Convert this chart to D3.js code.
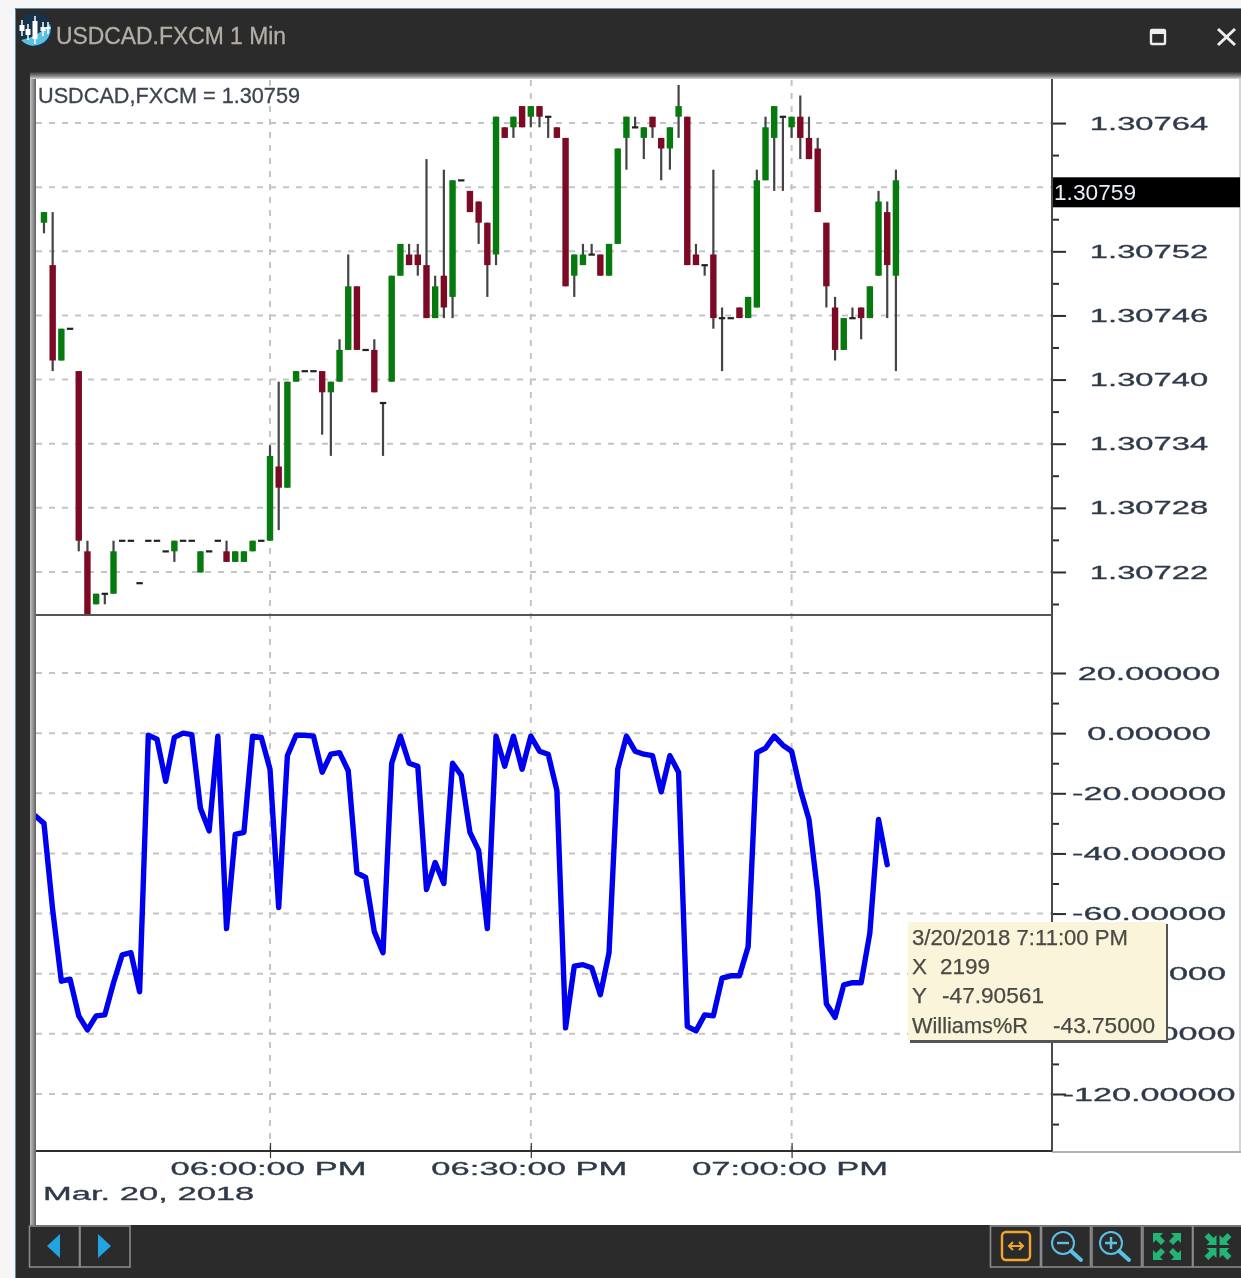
<!DOCTYPE html>
<html>
<head>
<meta charset="utf-8">
<script src="https://cdn.jsdelivr.net/npm/d3@7"></script>
<style>
html, body { margin: 0; padding: 0; background: #f6f6f6; overflow: hidden; }
svg { display: block; filter: blur(0.7px); }
text { font-family: "Liberation Sans", Arial, sans-serif; }
</style>
</head>
<body>
<svg id="chart"></svg>
<script>
const width = 1241;
const height = 1278;

const opens = [1.30755,1.30751,1.30742,1.30745,1.30741,1.30724,1.30719,1.30720,1.30720,1.30725,1.30725,1.30721,1.30725,1.30725,1.30724,1.30724,1.30725,1.30725,1.30722,1.30724,1.30725,1.30724,1.30723,1.30723,1.30724,1.30725,
  1.30725,1.30732,1.30730,1.30740,1.30741,1.30741,1.30741,1.30739,1.30740,1.30743,1.30749,1.30743,1.30743,1.30738,1.30740,1.30750,1.30752,1.30752,1.30751,1.30746,1.30750,1.30748,1.30759,1.30758,
  1.30757,1.30755,1.30752,1.30764,1.30764,1.30766,1.30765,1.30766,1.30765,1.30764,1.30763,1.30750,1.30751,1.30752,1.30752,1.30750,1.30753,1.30763,1.30764,1.30763,1.30765,1.30763,1.30762,1.30765,
  1.30765,1.30752,1.30751,1.30752,1.30746,1.30746,1.30747,1.30746,1.30747,1.30759,1.30763,1.30765,1.30764,1.30765,1.30763,1.30762,1.30755,1.30747,1.30743,1.30746,1.30747,1.30746,1.30750,1.30756,1.30750];
const highs = [1.30756,1.30756,1.30745,1.30745,1.30741,1.30725,1.30720,1.30720,1.30725,1.30725,1.30725,1.30721,1.30725,1.30725,1.30724,1.30725,1.30725,1.30725,1.30724,1.30724,1.30725,1.30725,1.30724,1.30724,1.30725,1.30725,
  1.30734,1.30740,1.30740,1.30741,1.30741,1.30741,1.30741,1.30740,1.30744,1.30752,1.30749,1.30743,1.30744,1.30738,1.30750,1.30753,1.30753,1.30753,1.30761,1.30750,1.30760,1.30759,1.30759,1.30758,
  1.30757,1.30755,1.30765,1.30764,1.30765,1.30766,1.30766,1.30766,1.30765,1.30764,1.30763,1.30752,1.30753,1.30753,1.30752,1.30753,1.30762,1.30765,1.30765,1.30764,1.30765,1.30763,1.30764,1.30768,
  1.30765,1.30753,1.30751,1.30760,1.30747,1.30746,1.30747,1.30748,1.30760,1.30765,1.30766,1.30765,1.30765,1.30767,1.30765,1.30763,1.30755,1.30748,1.30746,1.30747,1.30747,1.30749,1.30758,1.30757,1.30760];
const lows = [1.30754,1.30741,1.30742,1.30745,1.30724,1.30718,1.30719,1.30719,1.30720,1.30725,1.30725,1.30721,1.30725,1.30725,1.30724,1.30723,1.30725,1.30725,1.30722,1.30724,1.30725,1.30723,1.30723,1.30723,1.30724,1.30725,
  1.30725,1.30726,1.30730,1.30740,1.30741,1.30741,1.30735,1.30733,1.30740,1.30743,1.30743,1.30743,1.30739,1.30733,1.30740,1.30750,1.30751,1.30750,1.30746,1.30746,1.30746,1.30746,1.30759,1.30756,
  1.30753,1.30748,1.30751,1.30763,1.30763,1.30764,1.30764,1.30764,1.30763,1.30763,1.30749,1.30748,1.30751,1.30752,1.30750,1.30750,1.30753,1.30760,1.30764,1.30761,1.30763,1.30759,1.30760,1.30763,
  1.30751,1.30751,1.30750,1.30745,1.30741,1.30746,1.30746,1.30746,1.30747,1.30759,1.30758,1.30758,1.30763,1.30761,1.30761,1.30756,1.30747,1.30742,1.30743,1.30746,1.30744,1.30746,1.30750,1.30746,1.30741];
const closes = [1.30756,1.30742,1.30745,1.30745,1.30725,1.30718,1.30720,1.30720,1.30724,1.30725,1.30725,1.30721,1.30725,1.30725,1.30724,1.30725,1.30725,1.30725,1.30724,1.30724,1.30725,1.30723,1.30724,1.30724,1.30725,1.30725,
  1.30733,1.30730,1.30740,1.30741,1.30741,1.30741,1.30739,1.30740,1.30743,1.30749,1.30743,1.30743,1.30739,1.30738,1.30750,1.30753,1.30751,1.30751,1.30746,1.30749,1.30747,1.30759,1.30759,1.30756,
  1.30755,1.30751,1.30765,1.30763,1.30765,1.30764,1.30766,1.30765,1.30765,1.30763,1.30749,1.30752,1.30752,1.30752,1.30750,1.30753,1.30762,1.30765,1.30764,1.30764,1.30764,1.30762,1.30764,1.30766,
  1.30751,1.30751,1.30751,1.30746,1.30746,1.30746,1.30746,1.30748,1.30759,1.30764,1.30766,1.30765,1.30765,1.30763,1.30761,1.30756,1.30749,1.30743,1.30746,1.30746,1.30746,1.30749,1.30757,1.30751,1.30759];

// Williams %R, one value a minute from 5:33 PM to 7:11 PM
const williams = [-27.5,-30,-58.7,-82.5,-81.8,-94,-98.7,-94,-93.7,-83,-73.7,-73,-86,-0.7,-2,-16,-1.4,0,-0.5,-25,-32.5,-1,-65,-33.7,-33,-1,-1.4,
  -12,-58,-7.5,-0.7,-0.7,-1,-13,-7,-6.5,-12.5,-46.5,-48,-66,-73,-10,-1,-10,-11,-52,-43,-50,-10,-14,-33,-39,-65,-1,-11,-1,-12,-1,-6,-7,-19,-98,-77.5,-77,-78,-87,-73,-12,-1,-6,-7,-7.5,-19.5,-7.5,-13,
  -97.5,-99,-93.7,-94,-81.5,-80.7,-80.7,-71,-6.5,-5,-1,-4,-6,-18.7,-28.7,-53,-90,-94.5,-83.7,-83,-83,-66.5,-28.7,-43.75];

const priceTicks = [1.307644,1.3075835,1.307523,1.3074625,1.307402,1.3073415,1.307281,1.3072205];
const priceMinor = [1.3076138,1.3075533,1.3074928,1.3074323,1.3073718,1.3073113,1.3072508,1.3071903];
const williamsTicks = [20,0,-20,-40,-60,-80,-100,-120];
const williamsMinor = [10,-10,-30,-50,-70,-90,-110,-130];
const timeTicks = [new Date(2018,2,20,18,0),new Date(2018,2,20,18,30),new Date(2018,2,20,19,0)];
const firstCandle = new Date(2018,2,20,17,34);
const firstWilliams = new Date(2018,2,20,17,33);

const plotLeft = 36, plotRight = 1052, plotTop = 80, divider = 615, plotBottom = 1151;
const panelRight = 1241;
const textColor = "#2f3949";

const svg = d3.select("#chart").attr("width",width).attr("height",height);
const defs = svg.append("defs");

function gradient(id,x2,y2,stops) {
  const g = defs.append("linearGradient").attr("id",id)
    .attr("x1",0).attr("y1",0).attr("x2",x2).attr("y2",y2);
  stops.forEach(s => g.append("stop").attr("offset",s[0]).attr("stop-color",s[1]));
}
gradient("topShade",0,1,[[0,"#333333"],[0.6,"#8a8a8a"],[1,"#d8d8d8"]]);
gradient("leftShade",1,0,[[0,"#c4c4c4"],[0.6,"#8a8a8a"],[1,"#5e5e5e"]]);

defs.append("clipPath").attr("id","priceClip").append("rect")
  .attr("x",plotLeft).attr("y",plotTop).attr("width",plotRight-plotLeft).attr("height",divider-plotTop);
defs.append("clipPath").attr("id","williamsClip").append("rect")
  .attr("x",plotLeft).attr("y",divider).attr("width",plotRight-plotLeft).attr("height",plotBottom-divider);

const x = d3.scaleTime().domain([timeTicks[0],timeTicks[2]]).range([270,791.6]);
const yPrice = d3.scaleLinear().domain([1.30725,1.30765]).range([540.7,116.7]);
const yWilliams = d3.scaleLinear().domain([20,-120]).range([673,1094]);

// window frame
svg.append("rect").attr("x",15).attr("y",8).attr("width",width-15).attr("height",height-8).attr("fill","#2b2b2c");
svg.append("path").attr("d","M15.5,1278V8.5H1241").attr("fill","none").attr("stroke","#5d8aa6").attr("stroke-width",1);
svg.append("rect").attr("x",30).attr("y",74).attr("width",panelRight-30).attr("height",1151).attr("fill","#fff");
svg.append("rect").attr("x",30).attr("y",72).attr("width",panelRight-30).attr("height",7).attr("fill","url(#topShade)");
svg.append("rect").attr("x",30).attr("y",79).attr("width",6).attr("height",1146).attr("fill","url(#leftShade)");

// grid
const grid = svg.append("g").attr("stroke","#c4c4c4").attr("stroke-width",2).attr("stroke-dasharray","6,7");
grid.selectAll(".gh").data(priceTicks).enter().append("line")
  .attr("x1",plotLeft).attr("x2",plotRight).attr("y1",d => yPrice(d)).attr("y2",d => yPrice(d));
grid.selectAll(".gw").data(williamsTicks).enter().append("line")
  .attr("x1",plotLeft).attr("x2",plotRight).attr("y1",d => yWilliams(d)).attr("y2",d => yWilliams(d));
grid.selectAll(".gv").data(timeTicks).enter().append("line")
  .attr("y1",plotTop).attr("y2",plotBottom).attr("x1",d => x(d)).attr("x2",d => x(d));

// candles
const candles = opens.map(function(o,i) {
  return {t:d3.timeMinute.offset(firstCandle,i),o:o,h:highs[i],l:lows[i],c:closes[i]};
});
const candleG = svg.append("g").attr("clip-path","url(#priceClip)");
candleG.selectAll("line").data(candles).enter().append("line")
  .attr("x1",d => x(d.t)).attr("x2",d => x(d.t))
  .attr("y1",d => yPrice(d.h)).attr("y2",d => yPrice(d.l))
  .attr("stroke","#444").attr("stroke-width",2.2);
candleG.selectAll("rect").data(candles).enter().append("rect")
  .attr("x",d => x(d.t)-3.2).attr("width",6.4)
  .attr("y",d => d.o == d.c ? yPrice(d.c)-1 : yPrice(Math.max(d.o,d.c)))
  .attr("height",d => d.o == d.c ? 2.2 : Math.abs(yPrice(d.o)-yPrice(d.c)))
  .attr("fill",function(d) {
    if (d.o == d.c) return "#222";
    return d.c > d.o ? "#067a0e" : "#7c0a24";
  });

// williams line
const line = d3.line()
  .x((d,i) => x(d3.timeMinute.offset(firstWilliams,i)))
  .y(d => yWilliams(d));
svg.append("path").datum(williams).attr("d",line).attr("clip-path","url(#williamsClip)")
  .attr("fill","none").attr("stroke","#0000f0").attr("stroke-width",5.4)
  .attr("stroke-linejoin","round").attr("stroke-linecap","round");

// axes
function styleAxis(g,sx) {
  g.select(".domain").remove();
  g.selectAll("line").attr("stroke","#2c2c2c").attr("stroke-width",2);
  g.selectAll("text").attr("fill",textColor).attr("stroke",textColor).attr("stroke-width",0.3).attr("font-size",18)
    .attr("text-anchor","middle").attr("x",0).attr("dy",".34em")
    .attr("transform",`translate(97,0) scale(${sx},1)`);
}
// 1.30758 is hidden behind the last price box, so that tick gets no label
const priceLabel = d => d == priceTicks[1] ? "" : d3.format(".5f")(d);
const williamsLabel = d => d3.format(".5f")(d).replace("\u2212","-");

const axisG = svg.append("g").attr("transform",`translate(${plotRight},0)`);
axisG.append("g").call(d3.axisRight(yPrice).tickValues(priceTicks).tickSize(14).tickFormat(priceLabel)).call(styleAxis,1.82);
axisG.append("g").call(d3.axisRight(yPrice).tickValues(priceMinor).tickSize(7).tickFormat("")).call(styleAxis,1.82);
axisG.append("g").call(d3.axisRight(yWilliams).tickValues(williamsTicks).tickSize(14).tickFormat(williamsLabel)).call(styleAxis,1.9);
axisG.append("g").call(d3.axisRight(yWilliams).tickValues(williamsMinor).tickSize(7).tickFormat("")).call(styleAxis,1.9);

const xAxis = svg.append("g").attr("transform",`translate(0,${plotBottom-8})`)
  .call(d3.axisBottom(x).tickValues(timeTicks).tickSize(15).tickFormat(d3.timeFormat("%I:%M:%S %p")));
xAxis.select(".domain").remove();
xAxis.selectAll("line").attr("stroke","#333").attr("stroke-width",1.2);
xAxis.selectAll("text").attr("fill",textColor).attr("stroke",textColor).attr("stroke-width",0.3).attr("font-size",18).attr("text-anchor","middle")
  .attr("y",0).attr("dy",0).attr("transform","translate(-2,32) scale(1.92,1)");

svg.append("text").text("Mar. 20, 2018").attr("fill",textColor).attr("stroke",textColor).attr("stroke-width",0.3).attr("font-size",18)
  .attr("transform","translate(43,1200) scale(1.92,1)");

// panel borders
const border = svg.append("g").attr("fill","none");
border.append("path").attr("d",`M${plotRight},${plotTop-1}V${plotBottom+1}`).attr("stroke","#4a4a4a").attr("stroke-width",2);
border.append("path").attr("d",`M${plotLeft},${divider}H${plotRight}`).attr("stroke","#555").attr("stroke-width",2);
border.append("path").attr("d",`M${plotLeft},${plotBottom}H${plotRight}`).attr("stroke","#2e2e2e").attr("stroke-width",2);
border.append("path").attr("d",`M${plotRight},${plotBottom+1}H${panelRight}`).attr("stroke","#999").attr("stroke-width",1.4);
border.append("path").attr("d",`M${panelRight-1},${plotTop-1}V${plotBottom}`).attr("stroke","#aaa").attr("stroke-width",1);

// last price box
const lastPrice = closes[closes.length-1];
svg.append("rect").attr("x",plotRight+1).attr("y",yPrice(lastPrice)-3).attr("width",panelRight-plotRight-2).attr("height",30).attr("fill","#000");
svg.append("text").text(d3.format(".5f")(lastPrice)).attr("x",plotRight+2).attr("y",yPrice(lastPrice)+20)
  .attr("fill","#e8eef6").attr("font-size",22).attr("textLength",82).attr("lengthAdjust","spacingAndGlyphs");

svg.append("text").text("USDCAD,FXCM = " + d3.format(".5f")(lastPrice)).attr("x",38).attr("y",103)
  .attr("fill","#3d4450").attr("stroke","#3d4450").attr("stroke-width",0.3).attr("font-size",22)
  .attr("textLength",262).attr("lengthAdjust","spacingAndGlyphs");

// tooltip
const tip = svg.append("g");
tip.append("rect").attr("x",910).attr("y",924).attr("width",258).attr("height",119).attr("fill","#555");
tip.append("rect").attr("x",908).attr("y",922).attr("width",258).attr("height",118).attr("fill","#faf5da");
const tipLines = [
  ["3/20/2018 7:11:00 PM",912,945,216],
  ["X",912,974,15],["2199",940,974,50],
  ["Y",912,1003,15],["-47.90561",942,1003,102],
  ["Williams%R",912,1033,116],["-43.75000",1053,1033,102]
];
tipLines.forEach(function(d) {
  tip.append("text").text(d[0]).attr("x",d[1]).attr("y",d[2]).attr("fill","#4a4a44").attr("stroke","#4a4a44").attr("stroke-width",0.25).attr("font-size",22)
    .attr("textLength",d[3]).attr("lengthAdjust","spacingAndGlyphs");
});

// title bar
const logo = svg.append("g");
logo.append("circle").attr("cx",35).attr("cy",30).attr("r",17).attr("fill","#16334d");
logo.append("path").attr("d","M21,40 Q36,38 50,24 A17,17 0 0 1 21,40Z").attr("fill","#5cc0e2");
[[22,20,36],[28,24,40],[35,16,44],[43,22,36],[48,22,34]].forEach(function(c) {
  logo.append("rect").attr("x",c[0]-2.5).attr("y",c[1]+5).attr("width",5).attr("height",c[2]-c[1]-10).attr("fill","#fff");
  logo.append("line").attr("x1",c[0]).attr("x2",c[0]).attr("y1",c[1]).attr("y2",c[2]).attr("stroke","#fff").attr("stroke-width",1.5);
});
svg.append("text").text("USDCAD.FXCM 1 Min").attr("x",56).attr("y",44).attr("fill","#b4aea6").attr("stroke","#b4aea6").attr("stroke-width",0.3).attr("font-size",23)
  .attr("textLength",230).attr("lengthAdjust","spacingAndGlyphs");
svg.append("rect").attr("x",1151).attr("y",30).attr("width",14).attr("height",14).attr("rx",1).attr("fill","none").attr("stroke","#eee").attr("stroke-width",2.4);
svg.append("rect").attr("x",1151).attr("y",29).attr("width",14).attr("height",5).attr("fill","#eee");
svg.append("path").attr("d","M1218,29L1235,45M1235,29L1218,45").attr("stroke","#eee").attr("stroke-width",3);

// toolbar
svg.append("rect").attr("x",30).attr("y",1225).attr("width",panelRight-30).attr("height",53).attr("fill","#2b2b2c");
[[29.5,50],[80,50],[990.5,50],[1041.5,49],[1092,49.5],[1143,49.5],[1193,49]].forEach(function(b) {
  svg.append("rect").attr("x",b[0]).attr("y",1226).attr("width",b[1]).attr("height",41)
    .attr("fill","none").attr("stroke","#8a8a8a").attr("stroke-width",1.6);
});
svg.append("path").attr("d","M47,1246L60,1234V1258Z").attr("fill","#22a4e2");
svg.append("path").attr("d","M111,1246L98,1234V1258Z").attr("fill","#22a4e2");

// fit button
svg.append("rect").attr("x",1002).attr("y",1232).attr("width",28).attr("height",28).attr("rx",4)
  .attr("fill","none").attr("stroke","#f4a62a").attr("stroke-width",2.4);
svg.append("path").attr("d","M1009,1246H1023M1013,1242L1009,1246L1013,1250M1019,1242L1023,1246L1019,1250")
  .attr("fill","none").attr("stroke","#f4a62a").attr("stroke-width",2);

function magnifier(cx,plus) {
  svg.append("circle").attr("cx",cx).attr("cy",1243).attr("r",11).attr("fill","none").attr("stroke","#5cc0e6").attr("stroke-width",2);
  svg.append("path").attr("d",`M${cx+8},1251L${cx+18},1260`).attr("stroke","#5cc0e6").attr("stroke-width",4).attr("stroke-linecap","round");
  svg.append("path").attr("d",`M${cx-6},1243H${cx+6}` + (plus ? `M${cx},1237V1249` : ""))
    .attr("stroke","#5cc0e6").attr("stroke-width",2.4);
}
magnifier(1063,false);
magnifier(1111,true);

// expand / shrink buttons, four diagonal arrows each
function cornerArrow(tx,ty,dx,dy) {
  svg.append("path")
    .attr("d",`M${tx},${ty}L${tx+10*dx},${ty}L${tx+7*dx},${ty+3*dy}L${tx+12*dx},${ty+8*dy}L${tx+8*dx},${ty+12*dy}L${tx+3*dx},${ty+7*dy}L${tx},${ty+10*dy}Z`)
    .attr("fill","#22b573");
}
[[-1,-1],[1,-1],[-1,1],[1,1]].forEach(function(q) {
  cornerArrow(1167+q[0]*14,1246.5+q[1]*13.5,-q[0],-q[1]);
  cornerArrow(1218+q[0]*1.5,1246.5+q[1]*1.5,q[0],q[1]);
});
</script>
</body>
</html>
